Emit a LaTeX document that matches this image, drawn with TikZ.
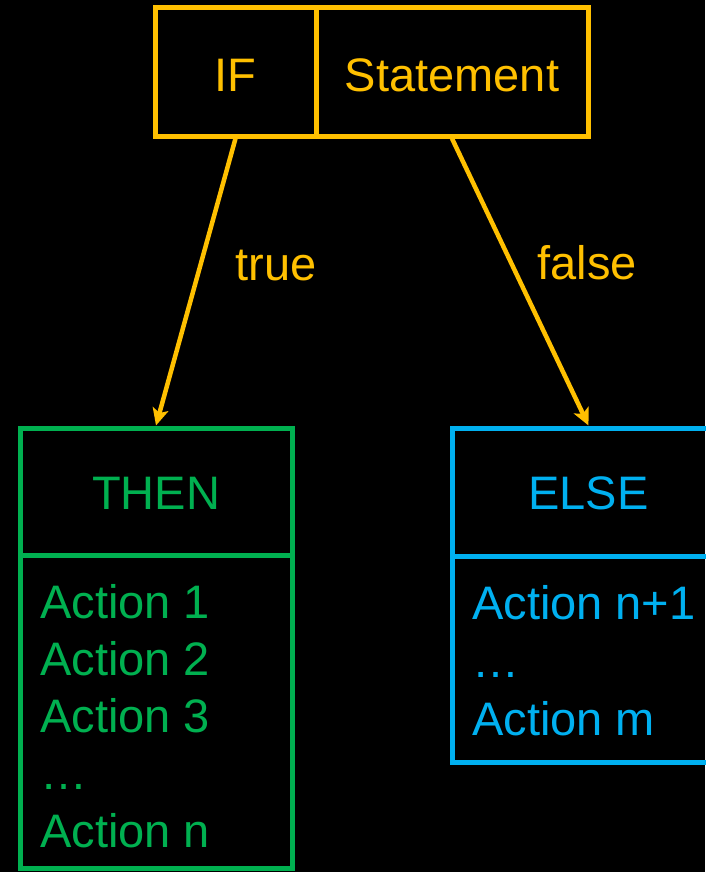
\documentclass[tikz,border=0pt]{standalone}
\usepackage{fontspec}
\setmainfont{Liberation Sans}
\usetikzlibrary{arrows.meta}
\definecolor{ifgold}{HTML}{FFC000}
\definecolor{thengreen}{HTML}{00B050}
\definecolor{elseblue}{HTML}{00B0F0}
\begin{document}
\begin{tikzpicture}[x=1pt,y=-1pt,
  every node/.style={font=\fontsize{47}{56}\selectfont},
  cell/.style={draw, line width=5pt, rectangle, inner sep=0pt},
  txt/.style={inner sep=0pt, anchor=base},
  item/.style={inner sep=0pt, anchor=base west},
  flow/.style={draw=ifgold, line width=4.5pt,
    -{Stealth[length=17pt,width=16pt,inset=4pt]}}]
  % page and background
  \useasboundingbox (0,0) rectangle (705,872);
  \fill[black] (0,0) rectangle (705,872);

  % condition box
  \node[cell, draw=ifgold, minimum width=161pt, minimum height=128pt] (ifc) at (235.5,72) {};
  \node[cell, draw=ifgold, minimum width=272pt, minimum height=128pt] (stmt) at (452,72) {};
  \node[txt, text=ifgold] (iftext) at (235.5,92) {IF};
  \node[txt, text=ifgold] (stmttext) at (452,92) {Statement};

  % THEN branch
  \node[cell, draw=thengreen, minimum width=272pt, minimum height=127pt] (thenhead) at (156,491.5) {};
  \node[cell, draw=thengreen, minimum width=272pt, minimum height=313pt] (thenbody) at (156,711.5) {};
  \node[txt, text=thengreen] (thentext) at (156,509) {THEN};
  \begin{scope}[text=thengreen]
    \node[item] (ta1) at (40,618) {Action 1};
    \node[item] (ta2) at (40,675.5) {Action 2};
    \node[item] (ta3) at (40,732.5) {Action 3};
    \node[item] (tdots) at (40,789.5) {…};
    \node[item] (tan) at (40,847) {Action n};
  \end{scope}

  % ELSE branch
  \node[cell, draw=elseblue, minimum width=273pt, minimum height=128pt] (elsehead) at (588.5,492) {};
  \node[cell, draw=elseblue, minimum width=273pt, minimum height=206pt] (elsebody) at (588.5,659) {};
  \node[txt, text=elseblue] (elsetext) at (588.5,509) {ELSE};
  \begin{scope}[text=elseblue]
    \node[item] (ea1) at (472,619.5) {Action n+1};
    \node[item] (edots) at (472,677) {…};
    \node[item] (eam) at (472,735) {Action m};
  \end{scope}

  % branches
  \draw[flow] (ifc.south) -- (thenhead.north);
  \draw[flow] (stmt.south) -- (elsehead.north);
  \node[txt, text=ifgold] (truelbl) at (276,280) {true};
  \node[txt, text=ifgold] (falselbl) at (587,279) {false};
\end{tikzpicture}
\end{document}
